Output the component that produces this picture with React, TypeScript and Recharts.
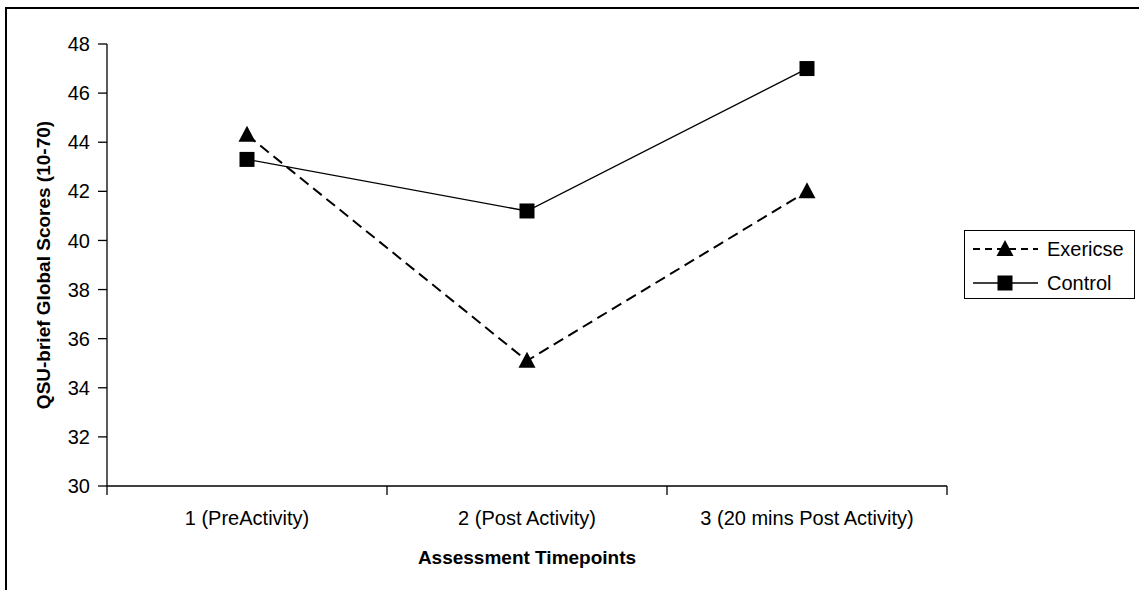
import { LineChart, Line, XAxis, YAxis, Legend } from "recharts";

const timepoints = ["1 (PreActivity)", "2 (Post Activity)", "3 (20 mins Post Activity)"];
const exercise = [44.3, 35.1, 42.0];
const control = [43.3, 41.2, 47.0];
const yTicks = [30, 32, 34, 36, 38, 40, 42, 44, 46, 48];
// category slots on a 0..3 axis: ticks at the boundaries, labels in the middle
const xTicks = [0, 0.5, 1, 1.5, 2, 2.5, 3];

const data = timepoints.map((t, i) => ({
  slot: i + 0.5,
  name: t,
  exercise: exercise[i],
  control: control[i],
}));

const FONT = "Arial, 'Liberation Sans', sans-serif";

function Triangle({ cx, cy }: any) {
  if (cx == null || cy == null) return null;
  return <path d={`M${cx},${cy - 9}L${cx + 8.5},${cy + 7}L${cx - 8.5},${cy + 7}Z`} fill="#000" />;
}

function Square({ cx, cy }: any) {
  if (cx == null || cy == null) return null;
  return <rect x={cx - 7.5} y={cy - 7.5} width={15} height={15} fill="#000" />;
}

function XTick({ x, y, payload }: any) {
  const v = payload.value;
  if (Number.isInteger(v)) {
    return <line x1={x} x2={x} y1={y - 9} y2={y} stroke="#000" strokeWidth={1.3} />;
  }
  return (
    <text x={x} y={y + 30} textAnchor="middle" fontSize={20} fontFamily={FONT} fill="#000">
      {timepoints[Math.floor(v)]}
    </text>
  );
}

function LegendBox() {
  return (
    <div style={{ width: 171, height: 69, border: "1.5px solid #000", boxSizing: "border-box", background: "#fff" }}>
      <svg width={168} height={66} style={{ display: "block" }}>
        <line x1={8} x2={73} y1={18} y2={18} stroke="#000" strokeWidth={2} strokeDasharray="7 5" />
        <Triangle cx={40} cy={18} />
        <text x={82} y={18} dominantBaseline="central" fontSize={20} fontFamily={FONT}>Exericse</text>
        <line x1={8} x2={73} y1={52} y2={52} stroke="#000" strokeWidth={1.3} />
        <Square cx={40} cy={52} />
        <text x={82} y={52} dominantBaseline="central" fontSize={20} fontFamily={FONT}>Control</text>
      </svg>
    </div>
  );
}

export default function App() {
  return (
    <div style={{ position: "absolute", left: 0, top: 0, width: 1139, height: 590, overflow: "hidden", background: "#fff" }}>
      <div style={{ position: "absolute", left: 5, top: 7, width: 2000, height: 2000, border: "2px solid #000" }} />
      <div style={{ position: "absolute", left: 0, top: 0 }}>
        <LineChart width={1139} height={590} data={data} margin={{ top: 44, right: 192, bottom: 14, left: 0 }}>
          <XAxis
            dataKey="slot"
            type="number"
            domain={[0, 3]}
            ticks={xTicks}
            interval={0}
            tickSize={9}
            tickMargin={0}
            tickLine={false}
            tick={<XTick />}
            height={90}
            axisLine={{ stroke: "#000", strokeWidth: 1.3 }}
            label={({ viewBox }: any) => (
              <text
                x={viewBox.x + viewBox.width / 2}
                y={viewBox.y + 78}
                textAnchor="middle"
                fontSize={19}
                fontWeight="bold"
                fontFamily={FONT}
                fill="#000"
              >
                Assessment Timepoints
              </text>
            )}
          />
          <YAxis
            domain={[30, 48]}
            ticks={yTicks}
            interval={0}
            width={107}
            tickSize={9}
            tickMargin={8}
            tick={{ fill: "#000", fontSize: 20, fontFamily: FONT }}
            tickLine={{ stroke: "#000", strokeWidth: 1.3 }}
            axisLine={{ stroke: "#000", strokeWidth: 1.3 }}
            label={({ viewBox }: any) => {
              const cx = viewBox.x + 43;
              const cy = viewBox.y + viewBox.height / 2;
              return (
                <text
                  x={cx}
                  y={cy}
                  transform={`rotate(-90, ${cx}, ${cy})`}
                  textAnchor="middle"
                  dominantBaseline="central"
                  fontSize={19}
                  fontWeight="bold"
                  fontFamily={FONT}
                  fill="#000"
                >
                  QSU-brief Global Scores (10-70)
                </text>
              );
            }}
          />
          <Legend
            layout="vertical"
            align="center"
            verticalAlign="middle"
            content={<LegendBox />}
            wrapperStyle={{ left: 964, top: 230, width: 171, height: 69 }}
          />
          <Line
            dataKey="exercise"
            name="Exericse"
            stroke="#000"
            strokeWidth={2}
            strokeDasharray="11 6"
            dot={<Triangle />}
            activeDot={false}
            isAnimationActive={false}
          />
          <Line
            dataKey="control"
            name="Control"
            stroke="#000"
            strokeWidth={1.3}
            dot={<Square />}
            activeDot={false}
            isAnimationActive={false}
          />
        </LineChart>
      </div>
    </div>
  );
}
